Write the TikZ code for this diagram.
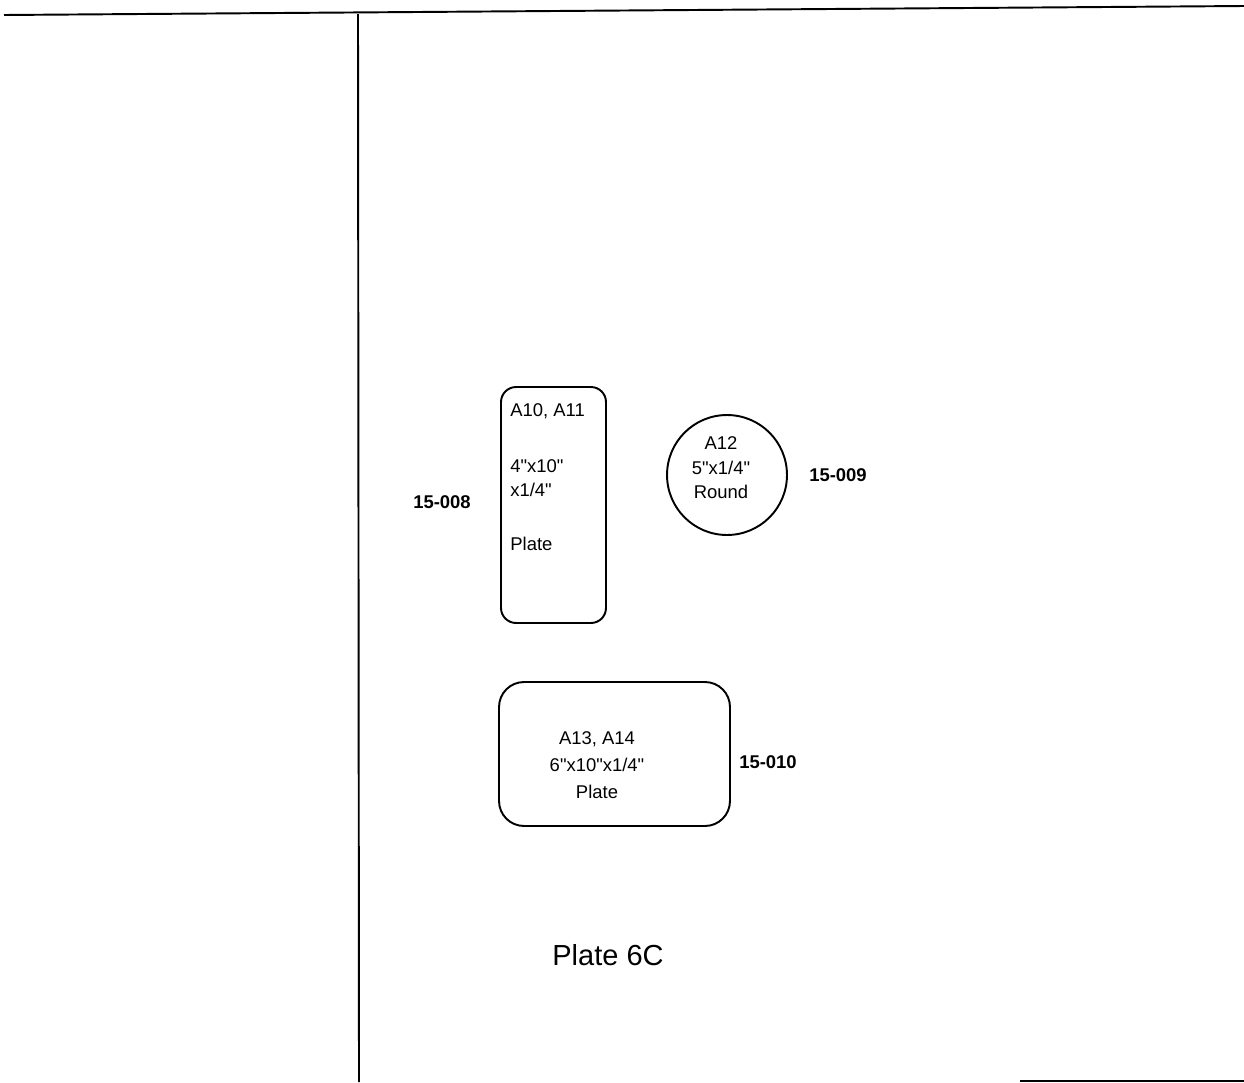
\documentclass[tikz,border=0pt]{standalone}
\usepackage{fontspec}
\setmainfont{Liberation Sans}
\usetikzlibrary{positioning}
\newcommand{\inch}{\textquotedbl}

\begin{document}
\begin{tikzpicture}[x=0.02cm,y=-0.02cm,
		part/.style={draw, line width=1.1pt, rounded corners=0.3cm, inner sep=0pt},
		tag/.style={font=\fontsize{10.5}{12}\selectfont\bfseries, inner sep=0pt},
		txt/.style={font=\fontsize{10.5}{14}\selectfont, inner sep=0pt}]
		\useasboundingbox (0,0) rectangle (1244,1082);

		% frame lines
		\draw[line width=1.1pt] (4,15) -- (1244,6);
		\draw[line width=1.1pt] (358,14) -- (359,1082);
		\draw[line width=0.8pt] (1020,1081) -- (1244,1081);

		% tall plate
		\node[part, minimum width=2.1cm, minimum height=4.72cm] (plateA) at (553.5,505) {};
		\node[txt, anchor=west] (nameA) at (510,411) {A10, A11};
		\node[txt, anchor=west] (dimA) at (510,466) {4\inch x10\inch};
		\node[txt, anchor=west] (thkA) at (510,490) {x1/4\inch};
		\node[txt, anchor=west] (kindA) at (510,544) {Plate};
		\node[tag, left=0.58cm of plateA, yshift=0.06cm] (tagA) {15-008};

		% round
		\node[part, circle, minimum size=2.4cm] (roundA) at (727,475) {};
		\node[txt, align=center] (textR) at (721,468) {A12\\5\inch x1/4\inch\\Round};
		\node[tag, right=0.42cm of roundA] (tagR) {15-009};

		% wide plate
		\node[part, rounded corners=0.5cm, minimum width=4.62cm, minimum height=2.88cm] (plateB) at (614.5,754) {};
		\node[txt, align=center, font=\fontsize{10.5}{15.5}\selectfont] (textB) at (597,765) {A13, A14\\6\inch x10\inch x1/4\inch\\Plate};
		\node[tag, right=0.16cm of plateB.east, anchor=west, yshift=-0.16cm] (tagB) {15-010};

		\node[font=\fontsize{16.5}{20}\selectfont] (title) at (608,955) {Plate 6C};
	\end{tikzpicture}
\end{document}
